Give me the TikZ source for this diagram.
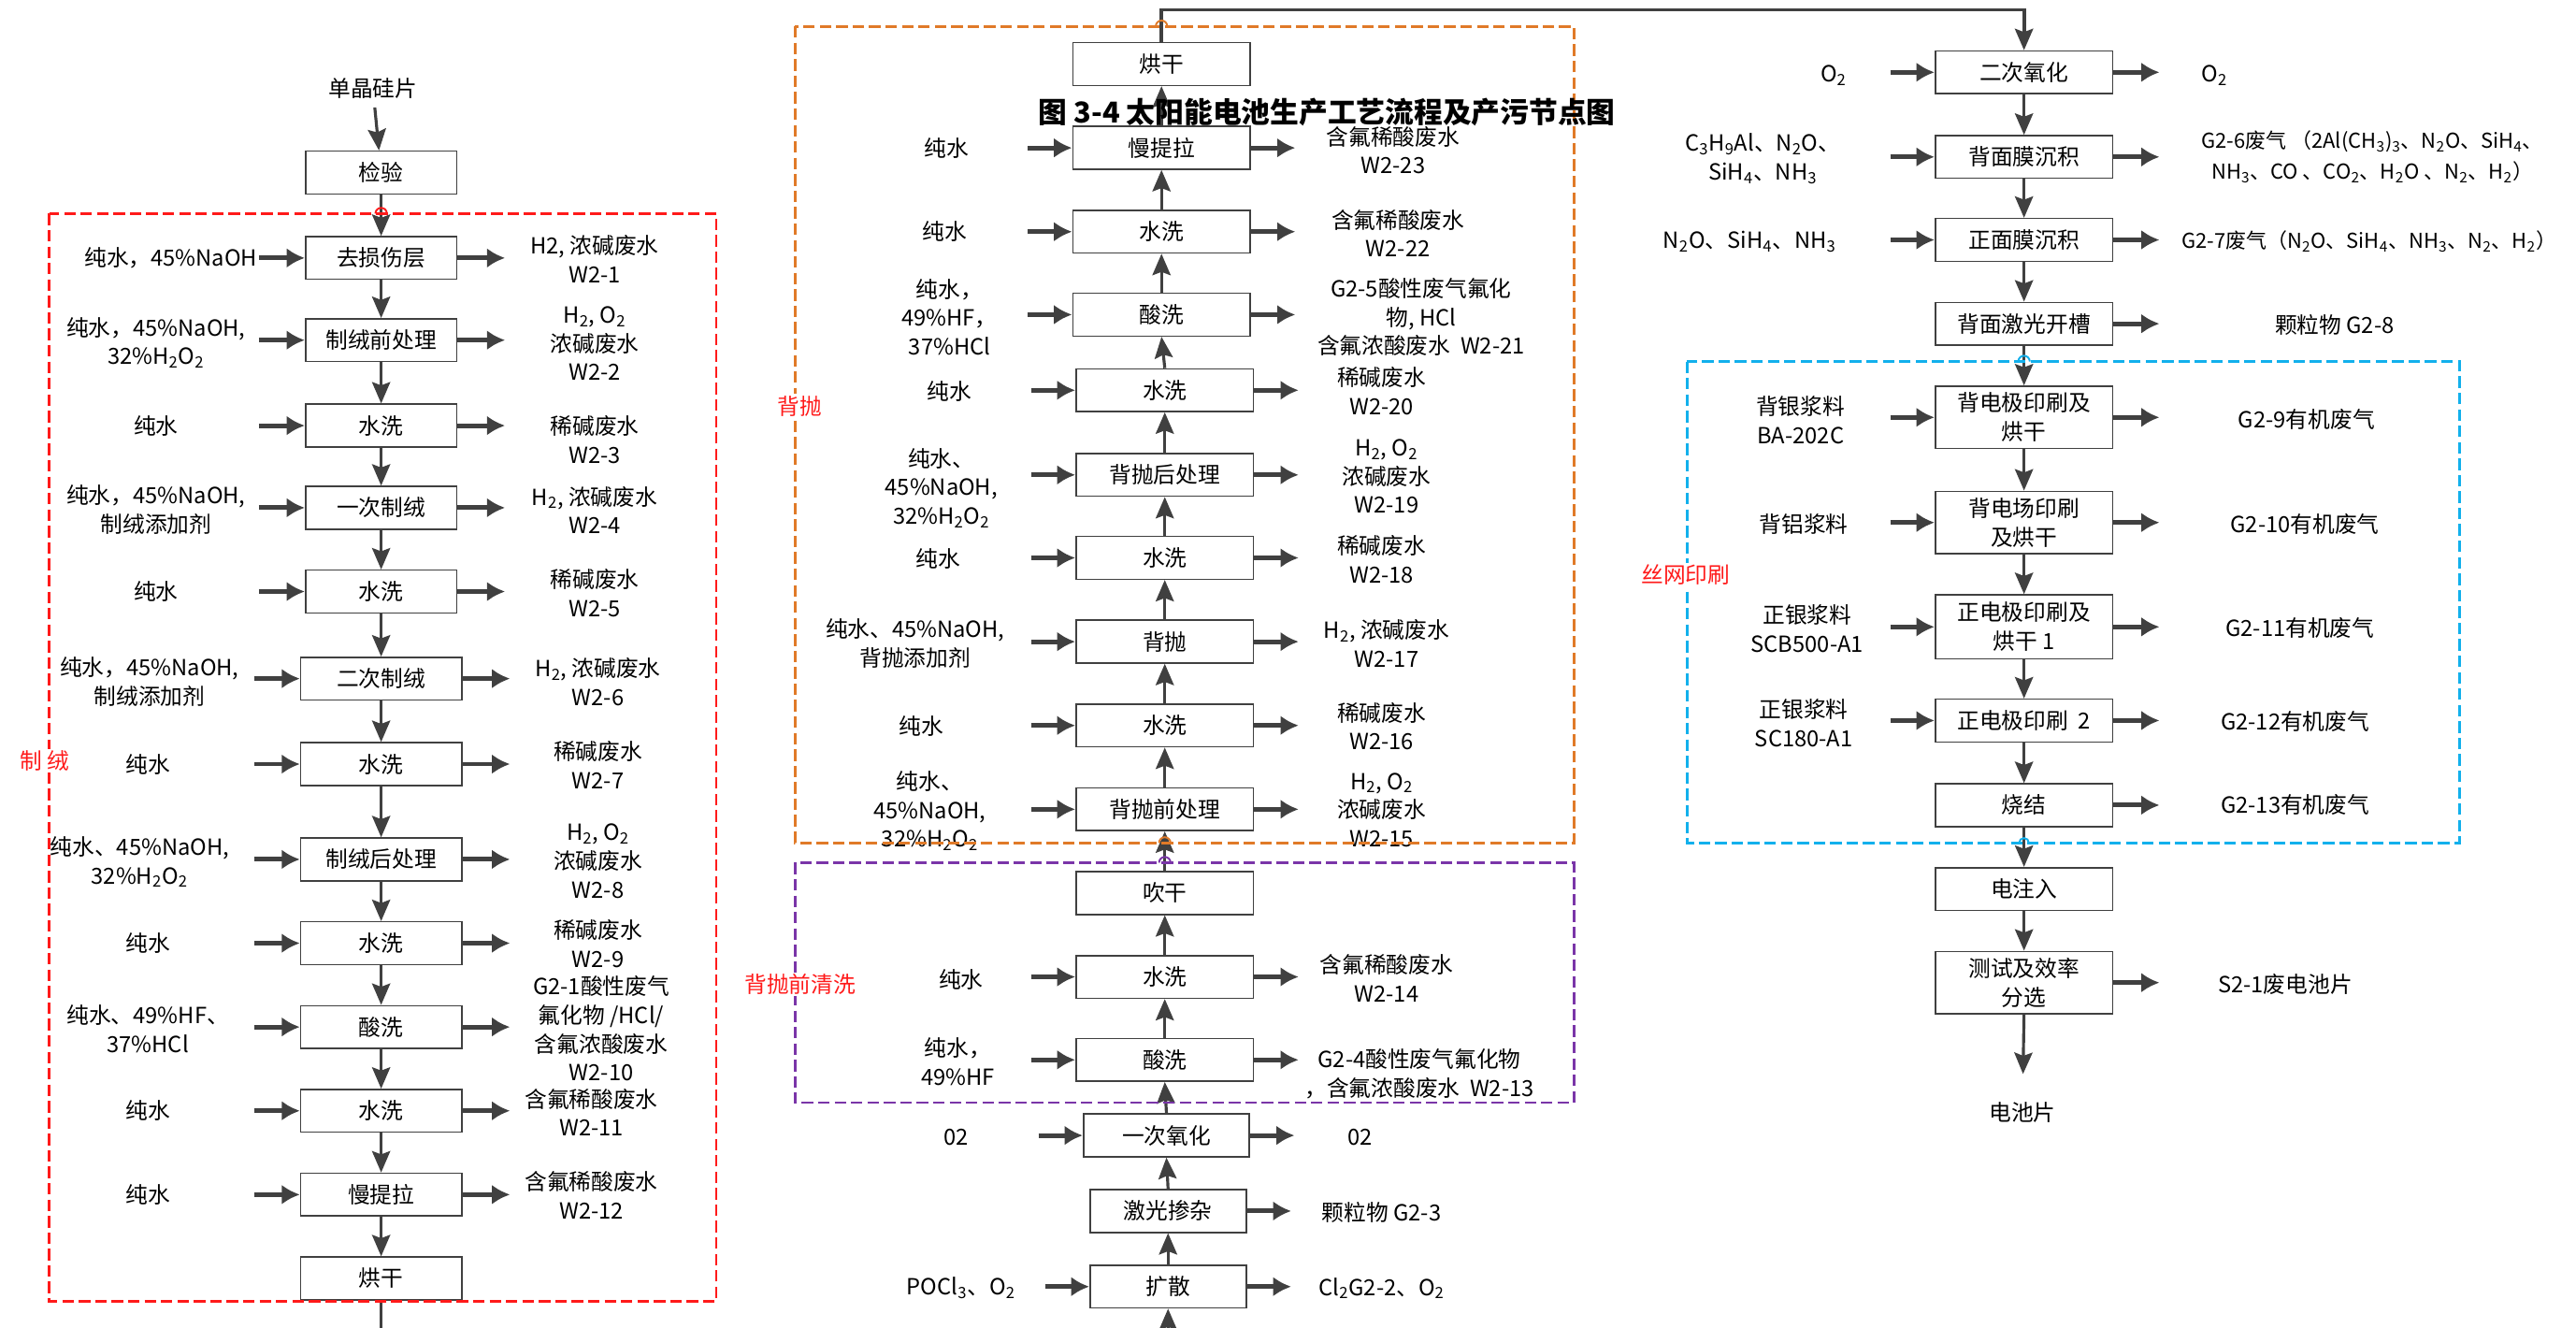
\documentclass[tikz,border=0pt]{standalone}
\usepackage{fontspec}
\setmainfont{Noto Sans CJK SC}
\usetikzlibrary{arrows.meta,calc}
\definecolor{arrc}{HTML}{404040}
\definecolor{boxc}{HTML}{404040}
\definecolor{redg}{HTML}{FF1A1A}
\definecolor{orng}{HTML}{E07A28}
\definecolor{purp}{HTML}{7A35A8}
\definecolor{cyanb}{HTML}{12B0EC}
\newcommand{\mysub}[1]{\textsubscript{#1}}
\newcommand{\fsz}{\fontsize{13.5pt}{17.5pt}\selectfont}
\newcommand{\fsm}{\fontsize{12.5pt}{19pt}\selectfont}
\tikzset{
  proc/.style={draw=boxc, line width=0.9pt, fill=white, minimum height=26pt, inner sep=0pt, align=center, text=black, font=\fsz},
  lab/.style={align=center, inner sep=0pt, text=black, font=\fsz},
  redlab/.style={text=redg, fill=white, inner sep=1pt, font=\fsz},
  flow/.style={draw=arrc, line width=1.8pt, -{Stealth[length=13pt,width=11pt,inset=2pt]}},
  side/.style={draw=arrc, line width=2.8pt, -{Latex[length=11pt,width=12pt]}},
  grp/.style={line width=1.6pt, dash pattern=on 7pt off 3pt},
  hop/.style={line width=1.1pt}
}
\begin{document}
\begin{tikzpicture}[x=1pt,y=-1pt]
\useasboundingbox (0,0) rectangle (1568,808);
\fill[white] (0,0) rectangle (1568,808);
% ---------- left column ----------
\node[lab] (s0) at (227,54) {单晶硅片};
\node[proc, minimum width=92pt] (a0) at (232,105) {检验};
\node[proc, minimum width=92pt] (a1) at (232,157) {去损伤层};
\node[proc, minimum width=92pt] (a2) at (232,207) {制绒前处理};
\node[proc, minimum width=92pt] (a3) at (232,259) {水洗};
\node[proc, minimum width=92pt] (a4) at (232,309) {一次制绒};
\node[proc, minimum width=92pt] (a5) at (232,360) {水洗};
\node[proc, minimum width=98pt] (a6) at (232,413) {二次制绒};
\node[proc, minimum width=98pt] (a7) at (232,465) {水洗};
\node[proc, minimum width=98pt] (a8) at (232,523) {制绒后处理};
\node[proc, minimum width=98pt] (a9) at (232,574) {水洗};
\node[proc, minimum width=98pt] (a10) at (232,625) {酸洗};
\node[proc, minimum width=98pt] (a11) at (232,676) {水洗};
\node[proc, minimum width=98pt] (a12) at (232,727) {慢提拉};
\node[proc, minimum width=98pt] (a13) at (232,778) {烘干};

\node[lab] (a1L) at (104,157) {纯水，45\%NaOH};
\node[lab] (a1R) at (362,157.5) {H2, 浓碱废水\\W2-1};
\node[lab] (a2L) at (95,208.5) {纯水，45\%NaOH,\\32\%H\mysub{2}O\mysub{2}};
\node[lab] (a2R) at (362,209) {H\mysub{2}, O\mysub{2}\\浓碱废水\\W2-2};
\node[lab] (a3L) at (95,259) {纯水};
\node[lab] (a3R) at (362,267.5) {稀碱废水\\W2-3};
\node[lab] (a4L) at (95,310.5) {纯水，45\%NaOH,\\制绒添加剂};
\node[lab] (a4R) at (362,310.5) {H\mysub{2}, 浓碱废水\\W2-4};
\node[lab] (a5L) at (95,360) {纯水};
\node[lab] (a5R) at (362,361) {稀碱废水\\W2-5};
\node[lab] (a6L) at (91,415) {纯水，45\%NaOH,\\制绒添加剂};
\node[lab] (a6R) at (364,415) {H\mysub{2}, 浓碱废水\\W2-6};
\node[lab] (a7L) at (90,465) {纯水};
\node[lab] (a7R) at (364,465.5) {稀碱废水\\W2-7};
\node[lab] (a8L) at (85,524.5) {纯水、45\%NaOH,\\32\%H\mysub{2}O\mysub{2}};
\node[lab] (a8R) at (364,524) {H\mysub{2}, O\mysub{2}\\浓碱废水\\W2-8};
\node[lab] (a9L) at (90,574) {纯水};
\node[lab] (a9R) at (364,574.5) {稀碱废水\\W2-9};
\node[lab] (a10L) at (90,626) {纯水、49\%HF、\\37\%HCl};
\node[lab] (a10R) at (366,626) {G2-1酸性废气\\氟化物 /HCl/\\含氟浓酸废水\\W2-10};
\node[lab] (a11L) at (90,676) {纯水};
\node[lab] (a11R) at (360,677) {含氟稀酸废水\\W2-11};
\node[lab] (a12L) at (90,727) {纯水};
\node[lab] (a12R) at (360,727.5) {含氟稀酸废水\\W2-12};

\draw[flow, shorten <=5pt] (s0) -- (a0);
\foreach \u/\v in {a0/a1,a1/a2,a2/a3,a3/a4,a4/a5,a5/a6,a6/a7,a7/a8,a8/a9,a9/a10,a10/a11,a11/a12,a12/a13}
  \draw[flow] (\u.south) -- (\v.north);
\foreach \b in {a1,a2,a3,a4,a5,a6,a7,a8,a9,a10,a11,a12}{
  \coordinate (\b-in) at ($(\b.west)+(-28,0)$);
  \coordinate (\b-out) at ($(\b.east)+(29,0)$);
  \draw[side] (\b-in) -- (\b.west);
  \draw[side] (\b.east) -- (\b-out);
}
\coordinate (boty) at (0,808);
\draw[draw=arrc, line width=1.8pt] (a13.south) -- (a13.south |- boty);

% ---------- middle column ----------
\node[proc, minimum width=108pt] (m1) at (707,39) {烘干};
\node[proc, minimum width=108pt] (m2) at (707,90) {慢提拉};
\node[proc, minimum width=108pt] (m3) at (707,141) {水洗};
\node[proc, minimum width=108pt] (m4) at (707,191.5) {酸洗};
\node[proc, minimum width=108pt] (m5) at (709,237.5) {水洗};
\node[proc, minimum width=108pt] (m6) at (709,289) {背抛后处理};
\node[proc, minimum width=108pt] (m7) at (709,339.5) {水洗};
\node[proc, minimum width=108pt] (m8) at (709,390.5) {背抛};
\node[proc, minimum width=108pt] (m9) at (709,441.5) {水洗};
\node[proc, minimum width=108pt] (m10) at (709,492.5) {背抛前处理};
\node[proc, minimum width=108pt] (m11) at (709,543.5) {吹干};
\node[proc, minimum width=108pt] (m12) at (709,594.5) {水洗};
\node[proc, minimum width=108pt] (m13) at (709,645) {酸洗};
\node[proc, minimum width=101pt] (m14) at (710,691) {一次氧化};
\node[proc, minimum width=95pt] (m15) at (711,737) {激光掺杂};
\node[proc, minimum width=95pt] (m16) at (711,783) {扩散};

\node[lab] (m2L) at (576,90) {纯水};
\node[lab] (m2R) at (848,91.5) {含氟稀酸废水\\W2-23};
\node[lab] (m3L) at (575,141) {纯水};
\node[lab] (m3R) at (851,142) {含氟稀酸废水\\W2-22};
\node[lab] (m4L) at (578,193) {纯水，\\49\%HF，\\37\%HCl};
\node[lab] (m4R) at (865,193) {G2-5酸性废气氟化\\物, HCl\\含氟浓酸废水\ \ W2-21};
\node[lab] (m5L) at (578,238) {纯水};
\node[lab] (m5R) at (841,238) {稀碱废水\\W2-20};
\node[lab] (m6L) at (573,297) {纯水、\\45\%NaOH,\\32\%H\mysub{2}O\mysub{2}};
\node[lab] (m6R) at (844,290) {H\mysub{2}, O\mysub{2}\\浓碱废水\\W2-19};
\node[lab] (m7L) at (571,340) {纯水};
\node[lab] (m7R) at (841,340.5) {稀碱废水\\W2-18};
\node[lab] (m8L) at (557,391.5) {纯水、45\%NaOH,\\背抛添加剂};
\node[lab] (m8R) at (844,391.5) {H\mysub{2}, 浓碱废水\\W2-17};
\node[lab] (m9L) at (561,442) {纯水};
\node[lab] (m9R) at (841,442) {稀碱废水\\W2-16};
\node[lab] (m10L) at (566,493.5) {纯水、\\45\%NaOH,\\32\%H\mysub{2}O\mysub{2}};
\node[lab] (m10R) at (841,493) {H\mysub{2}, O\mysub{2}\\浓碱废水\\W2-15};
\node[lab] (m12L) at (585,596) {纯水};
\node[lab] (m12R) at (844,595.5) {含氟稀酸废水\\W2-14};
\node[lab] (m13L) at (583,646) {纯水，\\49\%HF};
\node[lab] (m13R) at (864,653.5) {G2-4酸性废气氟化物\\，含氟浓酸废水\ \ W2-13};
\node[lab] (m14L) at (582,692) {02};
\node[lab] (m14R) at (828,692) {02};
\node[lab] (m15R) at (841,738) {颗粒物 G2-3};
\node[lab] (m16L) at (585,784) {POCl\mysub{3}、O\mysub{2}};
\node[lab] (m16R) at (841,784) {Cl\mysub{2}G2-2、O\mysub{2}};

\foreach \u/\v in {m16/m15,m15/m14,m14/m13,m13/m12,m12/m11,m11/m10,m10/m9,m9/m8,m8/m7,m7/m6,m6/m5,m5/m4,m4/m3,m3/m2,m2/m1}
  \draw[flow] (\u.north) -- (\v.south);
\foreach \b in {m2,m3,m4,m5,m6,m7,m8,m9,m10,m12,m13,m14,m16}{
  \coordinate (\b-in) at ($(\b.west)+(-27,0)$);
  \draw[side] (\b-in) -- (\b.west);
}
\foreach \b in {m2,m3,m4,m5,m6,m7,m8,m9,m10,m12,m13,m14,m15,m16}{
  \coordinate (\b-out) at ($(\b.east)+(27,0)$);
  \draw[side] (\b.east) -- (\b-out);
}
\draw[flow] (m16.south |- boty) -- (m16.south);

% ---------- right column ----------
\node[proc, minimum width=108pt] (r1) at (1232,44) {二次氧化};
\node[proc, minimum width=108pt] (r2) at (1232,95.5) {背面膜沉积};
\node[proc, minimum width=108pt] (r3) at (1232,146) {正面膜沉积};
\node[proc, minimum width=108pt] (r4) at (1232,197) {背面激光开槽};
\node[proc, minimum width=108pt, minimum height=38pt] (r5) at (1232,254) {背电极印刷及\\烘干};
\node[proc, minimum width=108pt, minimum height=38pt] (r6) at (1232,318) {背电场印刷\\及烘干};
\node[proc, minimum width=108pt, minimum height=39pt] (r7) at (1232,381.5) {正电极印刷及\\烘干 1};
\node[proc, minimum width=108pt] (r8) at (1232,438.5) {正电极印刷\ \ 2};
\node[proc, minimum width=108pt] (r9) at (1232,490) {烧结};
\node[proc, minimum width=108pt] (r10) at (1232,541) {电注入};
\node[proc, minimum width=108pt, minimum height=38pt] (r11) at (1232,598) {测试及效率\\分选};
\node[lab] (cell) at (1231,677) {电池片};

\node[lab] (r1L) at (1116,46) {O\mysub{2}};
\node[lab] (r1R) at (1348,46) {O\mysub{2}};
\node[lab] (r2L) at (1073,96.5) {C\mysub{3}H\mysub{9}Al、N\mysub{2}O、\\SiH\mysub{4}、NH\mysub{3}};
\node[lab, font=\fsm] (r2R) at (1444,95.5) {G2-6废气 （2Al(CH\mysub{3})\mysub{3}、N\mysub{2}O、SiH\mysub{4}、\\NH\mysub{3}、CO 、CO\mysub{2}、H\mysub{2}O 、N\mysub{2}、H\mysub{2}）};
\node[lab] (r3L) at (1065,147) {N\mysub{2}O、SiH\mysub{4}、NH\mysub{3}};
\node[lab, font=\fsm] (r3R) at (1442,147) {G2-7废气（N\mysub{2}O、SiH\mysub{4}、NH\mysub{3}、N\mysub{2}、H\mysub{2}）};
\node[lab] (r4R) at (1421,198) {颗粒物 G2-8};
\node[lab] (r5L) at (1096,255.5) {背银浆料\\BA-202C};
\node[lab] (r5R) at (1404,255) {G2-9有机废气};
\node[lab] (r6L) at (1098,319) {背铝浆料};
\node[lab] (r6R) at (1403,319) {G2-10有机废气};
\node[lab] (r7L) at (1100,382.5) {正银浆料\\SCB500-A1};
\node[lab] (r7R) at (1400,382) {G2-11有机废气};
\node[lab] (r8L) at (1098,440) {正银浆料\\SC180-A1};
\node[lab] (r8R) at (1397,439) {G2-12有机废气};
\node[lab] (r9R) at (1397,490) {G2-13有机废气};
\node[lab] (r11R) at (1391,599) {S2-1废电池片};

\foreach \u/\v in {r1/r2,r2/r3,r3/r4,r4/r5,r5/r6,r6/r7,r7/r8,r8/r9,r9/r10,r10/r11}
  \draw[flow] (\u.south) -- (\v.north);
\draw[flow, shorten >=17pt] (r11.south) -- (cell);
\foreach \b in {r1,r2,r3,r5,r6,r7,r8}{
  \coordinate (\b-in) at ($(\b.west)+(-27,0)$);
  \draw[side] (\b-in) -- (\b.west);
}
\foreach \b in {r1,r2,r3,r4,r5,r6,r7,r8,r9,r11}{
  \coordinate (\b-out) at ($(\b.east)+(28,0)$);
  \draw[side] (\b.east) -- (\b-out);
}
\coordinate (topy) at (0,6);
\draw[flow, line width=2.2pt] (m1.north) -- (m1.north |- topy) -| (r1.north);

% ---------- dashed groups ----------
\draw[grp, draw=redg] (30,130) rectangle (436,792);
\draw[grp, draw=orng] (484,16) rectangle (958,513);
\draw[grp, draw=purp] (484,525) rectangle (958,671);
\draw[grp, draw=cyanb] (1027,220) rectangle (1497,513);
\draw[hop, draw=redg] (228.5,130) arc[start angle=180, end angle=360, radius=3.5];
\draw[hop, draw=orng] (703.5,16) arc[start angle=180, end angle=360, radius=3.5];
\draw[hop, draw=orng] (705.5,513) arc[start angle=180, end angle=360, radius=3.5];
\draw[hop, draw=purp] (705.5,525) arc[start angle=180, end angle=360, radius=3.5];
\draw[hop, draw=cyanb] (1228.5,220) arc[start angle=180, end angle=360, radius=3.5];
\draw[hop, draw=cyanb] (1229,513) arc[start angle=180, end angle=360, radius=3];

\node[redlab] (g1) at (27,463) {制\ 绒};
\node[redlab] (g2) at (487,247) {背抛};
\node[redlab] (g3) at (487,599) {背抛前清洗};
\node[redlab] (g4) at (1026,350) {丝网印刷};

\node[anchor=west, inner sep=0pt, font=\fontsize{17.5pt}{20pt}\selectfont\bfseries] (title) at (632,68) {图 3-4 太阳能电池生产工艺流程及产污节点图};
\end{tikzpicture}
\end{document}
